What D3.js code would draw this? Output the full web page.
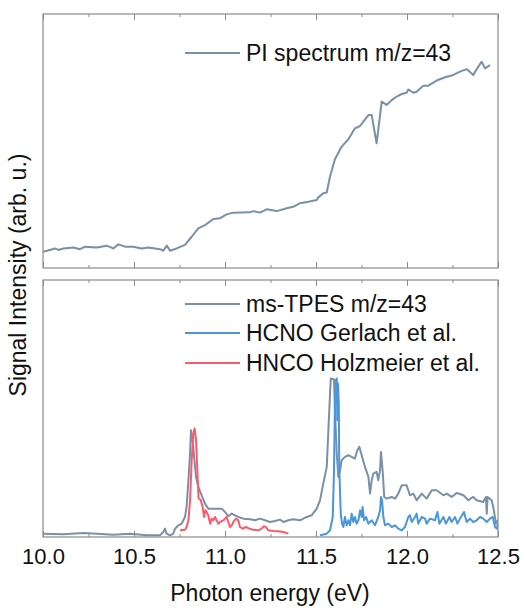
<!DOCTYPE html>
<html>
<head>
<meta charset="utf-8">
<script src="https://cdn.jsdelivr.net/npm/d3@7"></script>
<style>
    body { margin: 0; background: #fff; }
    svg text { font-family: "Liberation Sans", Arial, sans-serif; fill: #111; }
</style>
</head>
<body>
<div id="chart"></div>
<script>
// x ticks
const majorTicks = [10.0, 10.5, 11.0, 11.5, 12.0, 12.5];
const minorTicks = [10.25, 10.75, 11.25, 11.75, 12.25];

// PI spectrum m/z=43 (top panel, arb. u.)
const piEnergy = [10.002,10.066,10.084,10.112,10.167,10.203,10.231,10.295,10.350,10.386,10.414,10.451,10.496,10.542,10.579,10.643,10.661,10.680,10.698,10.734,10.780,10.817,10.853,10.890,10.936,10.973,11.009,11.046,11.137,11.156,11.192,11.229,11.284,11.339,11.375,11.412,11.458,11.504,11.513,11.540,11.559,11.577,11.604,11.641,11.678,11.714,11.742,11.760,11.788,11.806,11.833,11.861,11.888,11.916,11.943,11.971,11.998,12.007,12.035,12.053,12.090,12.117,12.163,12.209,12.255,12.291,12.328,12.364,12.392,12.410,12.429,12.456];
const piSignal = [0.064,0.077,0.071,0.077,0.081,0.074,0.084,0.081,0.088,0.077,0.093,0.084,0.084,0.077,0.081,0.074,0.068,0.088,0.068,0.077,0.091,0.123,0.156,0.169,0.193,0.196,0.211,0.218,0.219,0.224,0.218,0.231,0.224,0.235,0.241,0.255,0.261,0.268,0.278,0.294,0.297,0.360,0.428,0.478,0.507,0.550,0.559,0.576,0.602,0.602,0.491,0.655,0.642,0.661,0.675,0.685,0.690,0.703,0.690,0.694,0.718,0.718,0.738,0.751,0.760,0.773,0.783,0.760,0.793,0.812,0.786,0.799];

// ms-TPES m/z=43
const tpesEnergy = [10.002,10.112,10.222,10.295,10.386,10.478,10.570,10.643,10.661,10.670,10.679,10.698,10.716,10.725,10.744,10.762,10.780,10.789,10.799,10.808,10.813,10.822,10.832,10.841,10.853,10.872,10.890,10.908,10.945,10.982,11.000,11.018,11.037,11.055,11.073,11.101,11.137,11.165,11.192,11.220,11.247,11.275,11.302,11.321,11.348,11.375,11.412,11.449,11.476,11.504,11.522,11.540,11.559,11.573,11.581,11.599,11.604,11.614,11.623,11.632,11.641,11.659,11.678,11.696,11.714,11.727,11.738,11.751,11.769,11.788,11.797,11.806,11.815,11.833,11.842,11.852,11.857,11.866,11.875,11.888,11.916,11.934,11.952,11.971,11.998,12.016,12.035,12.053,12.081,12.108,12.136,12.163,12.200,12.218,12.245,12.273,12.310,12.337,12.364,12.383,12.419,12.434,12.438,12.443,12.465,12.474,12.489,12.500];
const tpesSignal = [1.0,0.8,1.2,1.0,0.7,1.0,0.5,0.5,1.5,2.5,1.0,0.5,1.0,2.5,3.5,4.0,6.0,9.0,17.0,25.0,32.0,29.0,23.0,18.0,15.0,12.5,10.0,8.5,8.5,8.5,7.5,6.2,7.0,6.5,6.0,5.5,5.3,5.0,5.5,5.0,4.5,4.8,5.2,4.5,5.0,5.3,5.0,6.0,6.5,8.5,11.0,16.0,21.0,38.0,47.5,47.2,38.0,25.0,18.0,20.0,23.0,24.0,24.5,24.0,23.5,26.0,27.0,24.5,21.0,18.0,13.0,17.0,19.0,19.5,17.0,20.0,25.5,20.0,12.0,11.5,12.0,11.5,13.0,15.5,15.5,12.5,13.0,11.0,13.0,11.5,14.0,14.0,12.5,13.0,12.0,13.2,12.5,11.0,12.0,11.0,10.5,12.0,7.0,12.0,11.0,9.0,4.0,5.0];

// HCNO Gerlach et al.
const hcnoEnergy = [11.522,11.559,11.577,11.592,11.599,11.604,11.610,11.614,11.617,11.621,11.625,11.628,11.636,11.643,11.650,11.659,11.668,11.678,11.687,11.696,11.705,11.714,11.723,11.733,11.742,11.751,11.756,11.764,11.775,11.788,11.806,11.824,11.842,11.852,11.857,11.863,11.870,11.879,11.897,11.916,11.934,11.952,11.971,11.989,12.007,12.016,12.026,12.044,12.053,12.062,12.081,12.099,12.108,12.126,12.154,12.167,12.178,12.200,12.214,12.233,12.245,12.264,12.277,12.291,12.313,12.328,12.346,12.364,12.383,12.401,12.419,12.438,12.456,12.471,12.484,12.493,12.500];
const hcnoSignal = [0.5,1.0,2.0,6.0,20.0,40.0,47.0,47.5,35.0,46.0,40.0,20.0,7.0,4.0,3.0,6.0,3.5,5.0,3.5,7.0,4.5,6.0,4.0,5.0,8.0,6.0,9.0,5.0,6.0,4.0,5.0,3.5,6.0,8.0,12.0,11.0,6.0,3.5,4.0,3.0,3.5,2.5,2.0,3.0,6.0,6.5,4.5,6.0,7.0,4.0,6.0,5.5,4.0,5.5,5.0,7.5,4.0,6.0,4.0,6.0,4.5,6.0,4.0,5.5,7.5,4.5,5.5,4.5,5.0,6.0,5.5,4.5,5.5,6.0,3.0,2.5,4.0];

// HNCO Holzmeier et al.
const hncoEnergy = [10.753,10.780,10.789,10.799,10.808,10.817,10.826,10.833,10.841,10.848,10.855,10.866,10.877,10.885,10.892,10.899,10.908,10.918,10.927,10.936,10.945,10.954,10.963,10.973,10.991,11.000,11.009,11.018,11.027,11.037,11.046,11.060,11.073,11.082,11.097,11.115,11.134,11.156,11.183,11.201,11.214,11.225,11.238,11.266,11.293,11.321,11.348];
const hncoSignal = [2.0,2.2,3.0,5.0,11.0,23.0,31.0,32.5,29.0,20.0,11.5,11.2,9.0,6.0,8.0,7.5,6.5,4.0,5.5,5.0,6.0,5.0,4.0,4.5,5.0,5.5,6.0,4.5,3.0,3.5,4.5,5.5,5.0,3.0,2.5,3.0,2.5,2.2,2.0,2.5,3.2,3.0,2.0,1.8,1.7,1.5,1.0];

const width = 526, height = 608;
const left = 43, right = 498;
const topPanel = { y0: 14, y1: 268 };
const botPanel = { y0: 280, y1: 537 };
const frameColor = '#8a8a8a';

const svg = d3.select('#chart')
    .append('svg')
    .attr('width', width)
    .attr('height', height);

var x = d3.scaleLinear().domain([10, 12.5]).range([left, right]);
var yTop = d3.scaleLinear().domain([0, 1]).range([topPanel.y1, topPanel.y0]);
var yBot = d3.scaleLinear().domain([0, 77]).range([botPanel.y1, botPanel.y0]);

function pairs(xs, ys) {
    return d3.range(Math.min(xs.length, ys.length)).map(i => [xs[i], ys[i]]);
}

// clip paths for the two panels
const defs = svg.append('defs');
[['clipTop', topPanel], ['clipBot', botPanel]].forEach(([id, p]) => {
    defs.append('clipPath').attr('id', id)
        .append('rect')
        .attr('x', left).attr('y', p.y0)
        .attr('width', right - left).attr('height', p.y1 - p.y0);
});

// inward ticks on top and bottom edge of a panel
function drawTicks(p, withLabels) {
    [[majorTicks, 6], [minorTicks, 3]].forEach(([vals, len]) => {
        svg.append('g')
            .attr('transform', 'translate(0,' + p.y0 + ')')
            .call(d3.axisTop(x).tickValues(vals).tickSize(-len).tickFormat(''))
            .call(g => g.select('.domain').remove())
            .call(g => g.selectAll('line').attr('stroke', frameColor));
        const bottom = svg.append('g')
            .attr('transform', 'translate(0,' + p.y1 + ')')
            .call(d3.axisBottom(x).tickValues(vals).tickSize(-len).tickPadding(11)
                .tickFormat(withLabels && len === 6 ? d3.format('.1f') : ''))
            .call(g => g.select('.domain').remove())
            .call(g => g.selectAll('line').attr('stroke', frameColor));
        bottom.selectAll('text')
            .attr('font-size', 22)
            .attr('font-family', '"Liberation Sans", Arial, sans-serif')
            .attr('fill', '#111');
    });
    svg.append('rect')
        .attr('x', left).attr('y', p.y0)
        .attr('width', right - left).attr('height', p.y1 - p.y0)
        .attr('fill', 'none')
        .attr('stroke', frameColor)
        .attr('stroke-width', 1.2);
}

function drawLine(data, yScale, color, clip) {
    svg.append('path')
        .datum(data)
        .attr('clip-path', 'url(#' + clip + ')')
        .attr('fill', 'none')
        .attr('stroke', color)
        .attr('stroke-width', 2)
        .attr('stroke-linejoin', 'round')
        .attr('d', d3.line().x(d => x(d[0])).y(d => yScale(d[1])));
}

const greyBlue = '#7990a8';
const blue = '#4a96da';
const red = '#ff5a6a';

// Top panel
drawLine(pairs(piEnergy, piSignal), yTop, greyBlue, 'clipTop');
drawTicks(topPanel, false);

// Bottom panel
drawLine(pairs(tpesEnergy, tpesSignal), yBot, greyBlue, 'clipBot');
drawLine(pairs(hncoEnergy, hncoSignal), yBot, red, 'clipBot');
drawLine(pairs(hcnoEnergy, hcnoSignal), yBot, blue, 'clipBot');
drawTicks(botPanel, true);

// Legends
function legendItem(y, color, label) {
    svg.append('line')
        .attr('x1', 185).attr('x2', 240)
        .attr('y1', y).attr('y2', y)
        .attr('stroke', color)
        .attr('stroke-width', 2);
    svg.append('text')
        .attr('x', 246)
        .attr('y', y + 8)
        .attr('font-size', 23)
        .text(label);
}
legendItem(53, greyBlue, 'PI spectrum m/z=43');
legendItem(304, greyBlue, 'ms-TPES m/z=43');
legendItem(333, blue, 'HCNO Gerlach et al.');
legendItem(363, red, 'HNCO Holzmeier et al.');

// Axis titles
svg.append('text')
    .attr('x', 270)
    .attr('y', 601)
    .attr('text-anchor', 'middle')
    .attr('font-size', 23)
    .text('Photon energy (eV)');

svg.append('text')
    .attr('transform', 'translate(26,275) rotate(-90)')
    .attr('text-anchor', 'middle')
    .attr('font-size', 23)
    .text('Signal Intensity (arb. u.)');
</script>
</body>
</html>
